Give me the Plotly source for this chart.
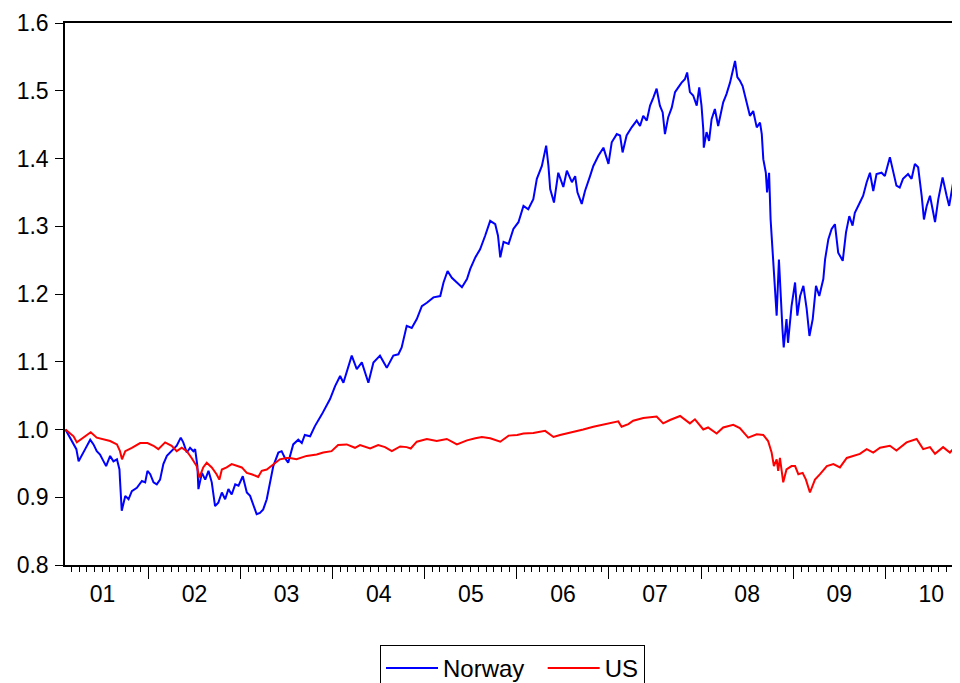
import plotly.graph_objects as go

norway_dates = [
    "2001-02-06","2001-03-21","2001-03-30","2001-04-12","2001-04-25","2001-05-15","2001-05-28","2001-06-10",
    "2001-06-23","2001-07-07","2001-07-17","2001-08-02","2001-08-15","2001-08-29","2001-09-08","2001-09-10",
    "2001-09-17","2001-10-01","2001-10-14","2001-10-27","2001-11-16","2001-12-06","2001-12-19","2001-12-28",
    "2002-01-08","2002-01-21","2002-02-03","2002-02-16","2002-03-01","2002-03-15","2002-04-03","2002-04-23",
    "2002-05-09","2002-05-19","2002-06-02","2002-06-15","2002-06-28","2002-07-05","2002-07-14","2002-07-18",
    "2002-08-01","2002-08-14","2002-08-27","2002-09-09","2002-09-22","2002-10-05","2002-10-19","2002-11-01",
    "2002-11-14","2002-11-27","2002-12-11","2002-12-24","2003-01-10","2003-01-26","2003-02-08","2003-02-21",
    "2003-03-06","2003-03-19","2003-04-01","2003-04-15","2003-04-28","2003-05-11","2003-05-31","2003-06-13",
    "2003-06-26","2003-07-09","2003-07-29","2003-08-18","2003-09-01","2003-09-13","2003-10-04","2003-10-23",
    "2003-11-19","2003-12-22","2004-01-11","2004-01-31","2004-02-13","2004-03-03","2004-03-17","2004-04-06",
    "2004-04-26","2004-05-22","2004-06-11","2004-07-07","2004-08-03","2004-08-29","2004-09-18","2004-10-01",
    "2004-10-21","2004-11-10","2004-11-30","2004-12-20","2005-01-09","2005-02-04","2005-03-03","2005-03-16",
    "2005-04-01","2005-04-18","2005-05-08","2005-05-28","2005-06-17","2005-06-30","2005-07-20","2005-08-08",
    "2005-08-28","2005-09-17","2005-10-07","2005-10-18","2005-10-27","2005-11-09","2005-11-29","2005-12-18",
    "2006-01-07","2006-01-27","2006-02-15","2006-03-07","2006-03-21","2006-04-10","2006-04-27","2006-05-06",
    "2006-05-13","2006-05-28","2006-06-14","2006-07-04","2006-07-18","2006-08-07","2006-08-20","2006-08-29",
    "2006-09-15","2006-09-28","2006-10-18","2006-10-31","2006-11-20","2006-12-10","2006-12-30","2007-01-12",
    "2007-02-01","2007-02-14","2007-02-24","2007-03-12","2007-04-01","2007-04-21","2007-05-04","2007-05-17",
    "2007-05-31","2007-06-13","2007-06-26","2007-07-09","2007-07-22","2007-08-02","2007-08-11","2007-08-24",
    "2007-09-07","2007-09-20","2007-10-03","2007-10-16","2007-10-29","2007-11-07","2007-11-18","2007-12-01",
    "2007-12-15","2007-12-25","2008-01-03","2008-01-10","2008-01-12","2008-01-23","2008-02-02","2008-02-12",
    "2008-02-25","2008-03-09","2008-03-29","2008-04-11","2008-04-25","2008-05-06","2008-05-15","2008-05-24",
    "2008-06-03","2008-06-14","2008-06-30","2008-07-13","2008-07-26","2008-08-09","2008-08-22","2008-08-29",
    "2008-09-04","2008-09-14","2008-09-19","2008-09-27","2008-10-03","2008-10-11","2008-10-20","2008-10-27",
    "2008-11-05","2008-11-11","2008-11-19","2008-11-24","2008-12-05","2008-12-11","2008-12-25","2009-01-08",
    "2009-01-17","2009-01-28","2009-02-10","2009-02-23","2009-03-06","2009-03-19","2009-04-01","2009-04-14",
    "2009-04-30","2009-05-07","2009-05-20","2009-06-02","2009-06-15","2009-06-28","2009-07-16","2009-07-29",
    "2009-08-11","2009-08-24","2009-09-02","2009-09-22","2009-10-05","2009-10-19","2009-11-01","2009-11-14",
    "2009-11-27","2009-12-17","2009-12-30","2010-01-19","2010-02-01","2010-02-14","2010-02-27","2010-03-12",
    "2010-04-01","2010-04-15","2010-04-28","2010-05-11","2010-05-25","2010-06-03","2010-06-14","2010-06-27",
    "2010-07-10","2010-07-17","2010-07-30","2010-08-16","2010-09-01","2010-09-11","2010-09-27","2010-10-17",
    "2010-10-26",
]
norway_values = [
    1.000,0.971,0.953,0.961,0.971,0.985,0.978,0.968,
    0.963,0.953,0.946,0.961,0.953,0.956,0.941,0.926,
    0.880,0.902,0.897,0.909,0.914,0.924,0.922,0.939,
    0.934,0.922,0.919,0.926,0.949,0.961,0.968,0.976,
    0.988,0.981,0.966,0.973,0.968,0.971,0.946,0.912,
    0.936,0.926,0.939,0.922,0.887,0.892,0.907,0.897,
    0.912,0.904,0.919,0.917,0.931,0.907,0.902,0.887,
    0.875,0.877,0.882,0.897,0.921,0.946,0.966,0.968,
    0.958,0.951,0.978,0.985,0.980,0.992,0.990,1.005,
    1.022,1.045,1.064,1.079,1.069,1.094,1.109,1.089,
    1.099,1.069,1.099,1.109,1.091,1.109,1.111,1.121,
    1.153,1.150,1.163,1.182,1.187,1.195,1.197,1.217,
    1.234,1.224,1.217,1.210,1.222,1.237,1.254,1.266,
    1.286,1.308,1.303,1.286,1.254,1.277,1.274,1.296,
    1.306,1.330,1.325,1.340,1.370,1.389,1.419,1.389,
    1.355,1.335,1.379,1.358,1.382,1.365,1.374,1.350,
    1.333,1.352,1.374,1.389,1.404,1.416,1.392,1.424,
    1.436,1.434,1.409,1.434,1.446,1.456,1.448,1.463,
    1.456,1.478,1.490,1.503,1.478,1.468,1.436,1.461,
    1.475,1.498,1.505,1.512,1.517,1.527,1.498,1.493,
    1.478,1.505,1.478,1.443,1.416,1.439,1.426,1.458,
    1.473,1.448,1.483,1.495,1.512,1.530,1.544,1.520,
    1.515,1.507,1.485,1.463,1.470,1.446,1.453,1.436,
    1.399,1.379,1.350,1.379,1.310,1.261,1.212,1.168,
    1.251,1.202,1.148,1.121,1.163,1.128,1.182,1.217,
    1.168,1.197,1.212,1.178,1.138,1.163,1.212,1.197,
    1.222,1.251,1.281,1.296,1.303,1.261,1.249,1.291,
    1.315,1.301,1.320,1.335,1.345,1.365,1.379,1.352,
    1.377,1.379,1.374,1.402,1.379,1.360,1.357,1.370,
    1.377,1.370,1.392,1.387,1.345,1.310,1.330,1.345,
    1.320,1.306,1.340,1.372,1.345,1.330,1.365,1.384,
    1.388,
]

us_dates = [
    "2001-02-06","2001-03-10","2001-03-23","2001-04-18","2001-05-17","2001-06-10","2001-07-07","2001-08-02",
    "2001-08-29","2001-09-10","2001-09-18","2001-10-01","2001-10-27","2001-11-29","2001-12-28","2002-01-21",
    "2002-02-09","2002-03-08","2002-04-03","2002-04-23","2002-05-13","2002-06-02","2002-06-21","2002-07-11",
    "2002-07-22","2002-08-06","2002-08-20","2002-09-09","2002-09-28","2002-10-09","2002-10-19","2002-11-07",
    "2002-11-27","2002-12-17","2003-01-06","2003-01-26","2003-02-14","2003-03-12","2003-03-26","2003-04-15",
    "2003-05-11","2003-06-06","2003-07-03","2003-07-16","2003-08-11","2003-09-20","2003-10-30","2003-11-25",
    "2003-12-28","2004-01-23","2004-02-26","2004-03-30","2004-04-19","2004-05-29","2004-06-30","2004-07-27",
    "2004-08-23","2004-09-25","2004-10-21","2004-11-06","2004-11-30","2005-01-09","2005-02-17","2005-03-29",
    "2005-05-08","2005-06-17","2005-07-20","2005-08-15","2005-09-17","2005-10-27","2005-11-29","2006-01-02",
    "2006-01-27","2006-03-07","2006-04-23","2006-05-26","2006-06-21","2006-07-31","2006-09-21","2006-10-31",
    "2006-12-10","2007-02-07","2007-02-20","2007-03-19","2007-04-07","2007-05-17","2007-07-09","2007-08-04",
    "2007-08-31","2007-10-10","2007-11-18","2007-12-08","2008-01-10","2008-01-29","2008-03-03","2008-03-29",
    "2008-05-08","2008-06-03","2008-07-06","2008-08-09","2008-09-04","2008-09-23","2008-10-07","2008-10-16",
    "2008-10-27","2008-11-02","2008-11-09","2008-11-22","2008-12-05","2008-12-25","2009-01-08","2009-01-21",
    "2009-02-07","2009-02-20","2009-03-08","2009-03-28","2009-04-17","2009-05-14","2009-06-09","2009-07-05",
    "2009-08-01","2009-08-27","2009-09-22","2009-10-19","2009-11-14","2009-12-11","2010-01-19","2010-02-14",
    "2010-03-26","2010-05-05","2010-05-31","2010-06-27","2010-07-17","2010-08-18","2010-09-14","2010-10-11",
    "2010-10-26",
]
us_values = [
    1.000,0.990,0.981,0.988,0.996,0.988,0.986,0.983,
    0.978,0.968,0.956,0.968,0.973,0.980,0.980,0.976,
    0.971,0.981,0.976,0.968,0.973,0.968,0.958,0.946,
    0.929,0.944,0.951,0.944,0.934,0.926,0.941,0.944,
    0.949,0.946,0.944,0.936,0.934,0.930,0.939,0.941,
    0.949,0.956,0.958,0.958,0.956,0.961,0.963,0.966,
    0.968,0.977,0.978,0.973,0.977,0.972,0.977,0.974,
    0.968,0.975,0.974,0.972,0.982,0.986,0.983,0.986,
    0.978,0.984,0.987,0.989,0.987,0.982,0.991,0.992,
    0.994,0.995,0.998,0.989,0.992,0.995,1.000,1.004,
    1.007,1.012,1.004,1.008,1.013,1.017,1.019,1.009,
    1.014,1.020,1.009,1.015,1.000,1.003,0.994,1.003,
    1.007,1.002,0.988,0.993,0.992,0.983,0.966,0.946,
    0.956,0.939,0.958,0.922,0.941,0.946,0.946,0.934,
    0.936,0.926,0.907,0.926,0.934,0.946,0.949,0.944,
    0.958,0.961,0.964,0.971,0.966,0.973,0.976,0.969,
    0.981,0.986,0.971,0.974,0.964,0.974,0.966,0.977,
    0.979,
]

series_names = ["Norway", "US"]
series_colors = ["#0000ff", "#ff0000"]
y_ticks = [0.8, 0.9, 1.0, 1.1, 1.2, 1.3, 1.4, 1.5, 1.6]

FONT = "Liberation Sans, Arial, sans-serif"

fig = go.Figure()
# a little non-breaking padding after the first legend label keeps the gap between entries
fig.add_trace(go.Scatter(x=norway_dates, y=norway_values, mode="lines",
                         name=series_names[0] + "\u00a0\u00a0",
                         line=dict(color=series_colors[0], width=2)))
fig.add_trace(go.Scatter(x=us_dates, y=us_values, mode="lines", name=series_names[1],
                         line=dict(color=series_colors[1], width=2)))

# page body has an 8px margin, so the figure is offset by (8, 8)
fig.update_layout(
    width=952, height=675,
    margin=dict(l=57, r=0, t=15, b=118, autoexpand=False),
    paper_bgcolor="white", plot_bgcolor="white",
    font=dict(family=FONT, size=23, color="black"),
    showlegend=True,
    legend=dict(orientation="h", x=0.5, xanchor="center", y=-0.1476, yanchor="top",
                bordercolor="black", borderwidth=1, font=dict(size=24), itemwidth=52,
                bgcolor="white"),
)
fig.update_xaxes(
    type="date", range=["2001-02-04", "2010-10-24"], automargin=False,
    tick0="2001-01-01", dtick="M12", tickformat="%y", ticklabelmode="period",
    ticks="outside", ticklen=12, tickwidth=1, tickcolor="black", ticklabelstandoff=-4,
    minor=dict(dtick="M1", ticks="outside", ticklen=5, tickwidth=1, tickcolor="black", showgrid=False),
    showline=True, linecolor="black", linewidth=1.5, mirror=True,
    showgrid=False, zeroline=False, tickfont=dict(size=23),
)
fig.update_yaxes(
    range=[0.8, 1.6], tickvals=y_ticks, tickformat=".1f", automargin=False,
    ticks="outside", ticklen=8, tickwidth=1, tickcolor="black", ticklabelstandoff=2,
    showline=True, linecolor="black", linewidth=1.5,
    showgrid=False, zeroline=False, tickfont=dict(size=23),
)

fig.write_html("out.html")
